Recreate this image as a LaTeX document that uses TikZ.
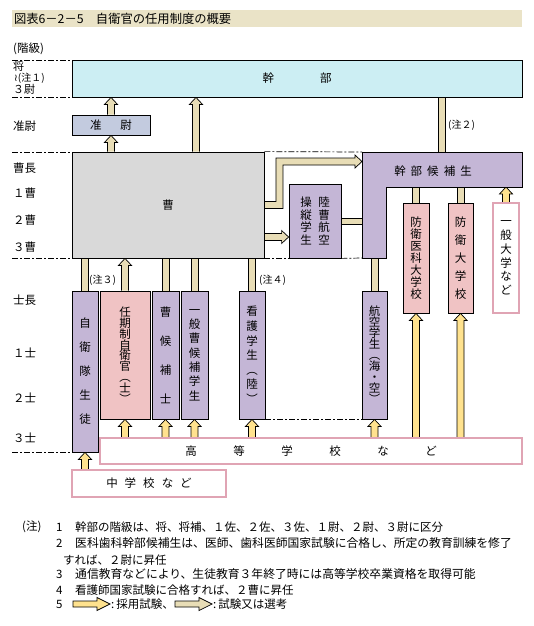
\documentclass[tikz,border=0pt]{standalone}
\usepackage{fontspec}
\setmainfont{Noto Sans CJK JP}
\newfontfamily\symfont{DejaVu Sans}
\usetikzlibrary{calc,backgrounds}

\definecolor{titlebg}{HTML}{EAE3C7}
\definecolor{kancyan}{HTML}{CCEEF3}
\definecolor{junblue}{HTML}{C3CBDF}
\definecolor{sougray}{HTML}{D9D9D9}
\definecolor{stupurple}{HTML}{C4B6D6}
\definecolor{schpink}{HTML}{F0C3C4}
\definecolor{linepink}{HTML}{E0A4B4}
\definecolor{senkotan}{HTML}{E8DDB6}
\definecolor{saiyoyel}{HTML}{FFE28E}

\tikzset{
  rankline/.style={line width=0.7pt, dash pattern=on 6pt off 2pt on 2pt off 2pt},
  ranklabel/.style={anchor=west, inner sep=0pt},
  rbox/.style={draw, line width=0.8pt, inner sep=0pt, align=center},
  topbox/.style={rbox, fill=kancyan},
  junbox/.style={rbox, fill=junblue},
  soubox/.style={rbox, fill=sougray},
  stubox/.style={rbox, fill=stupurple},
  schbox/.style={rbox, fill=schpink},
  openbox/.style={rbox, draw=linepink, line width=1.2pt, fill=white},
  vtxt/.style={font=\fontsize{11.5}{#1}\selectfont},
  notelabel/.style={anchor=west, inner sep=0pt, font=\fontsize{10}{12}\selectfont},
  notetext/.style={anchor=west, inner sep=0pt, font=\fontsize{11.5}{14}\selectfont},
  pics/legarrow/.style={code={
    \filldraw[line width=0.7pt, fill=#1] (0,-3) -- (24,-3) -- (24,-6.5) -- (37,0)
      -- (24,6.5) -- (24,3) -- (0,3) -- cycle;}}
}

% block arrows: #1 fill, #2 start, #3 tip
\newcommand{\blkup}[3]{%
  \draw[line width=0.7pt, fill=#1] let \p1=#2, \p2=#3 in
    (\x1-3.5pt,\y1) -- (\x1-3.5pt,\y2-7pt) -- (\x1-6.5pt,\y2-7pt) -- (\x1,\y2)
    -- (\x1+6.5pt,\y2-7pt) -- (\x1+3.5pt,\y2-7pt) -- (\x1+3.5pt,\y1);}
\newcommand{\blkshaft}[3]{%
  \fill[#1] let \p1=#2, \p2=#3 in (\x1-3.5pt,\y1) rectangle (\x1+3.5pt,\y2);
  \draw[line width=0.7pt] let \p1=#2, \p2=#3 in
    (\x1-3.5pt,\y1) -- (\x1-3.5pt,\y2) (\x1+3.5pt,\y1) -- (\x1+3.5pt,\y2);}
\newcommand{\blkright}[3]{%
  \draw[line width=0.7pt, fill=#1] let \p1=#2, \p2=#3 in
    (\x1,\y1+3.5pt) -- (\x2-7pt,\y1+3.5pt) -- (\x2-7pt,\y1+6.5pt) -- (\x2,\y1)
    -- (\x2-7pt,\y1-6.5pt) -- (\x2-7pt,\y1-3.5pt) -- (\x1,\y1-3.5pt);}
\newcommand{\blkhshaft}[3]{%
  \fill[#1] let \p1=#2, \p2=#3 in (\x1,\y1-3pt) rectangle (\x2,\y1+3pt);
  \draw[line width=0.7pt] let \p1=#2, \p2=#3 in
    (\x1,\y1-3pt) -- (\x2,\y1-3pt) (\x1,\y1+3pt) -- (\x2,\y1+3pt);}

\begin{document}
\begin{tikzpicture}[x=1pt, y=-1pt, font=\fontsize{11.5}{13}\selectfont]
  \useasboundingbox (0,0) rectangle (534,626);

  \node[fill=titlebg, inner sep=2pt, text width=506pt, minimum height=17pt,
    align=left, font=\fontsize{12.3}{14}\selectfont] (title) at (267,18.5)
    {図表6－2－5　自衛官の任用制度の概要};

  % rank scale
  \node[ranklabel] (kaikyu) at (13,49) {(階級)};
  \foreach \y in {60,97,152,258,452}
    \draw[rankline] (12,\y) -- (72,\y);
  \node[ranklabel, font=\fontsize{11}{12}\selectfont] (r1) at (13,66.5) {将};
  \node[ranklabel, font=\fontsize{10}{11}\selectfont] (r2) at (14,78) {{\symfont ≀}(注１)};
  \node[ranklabel, font=\fontsize{11}{12}\selectfont] (r3) at (13,89.5) {３尉};
  \node[ranklabel] (r4) at (13,126) {准尉};
  \node[ranklabel] (r5) at (13,168) {曹長};
  \node[ranklabel] (r6) at (13,193) {１曹};
  \node[ranklabel] (r7) at (13,220) {２曹};
  \node[ranklabel] (r8) at (13,247) {３曹};
  \node[ranklabel] (r9) at (13,300) {士長};
  \node[ranklabel] (r10) at (13,353) {１士};
  \node[ranklabel] (r11) at (13,398) {２士};
  \node[ranklabel] (r12) at (13,438) {３士};

  % boxes
  \node[topbox, minimum width=450, minimum height=37] (kanbu) at (297,78.5) {幹\hspace{46pt}部};
  \node[junbox, minimum width=78, minimum height=20] (jun) at (111,125) {准\hspace{19pt}尉};
  \node[soubox, minimum width=192, minimum height=106] (sou) at (168,205) {曹};
  \node[stubox, vtxt=12.7, minimum width=52, minimum height=74] (rikuso) at (315,221)
    {操\hspace{6.5pt}陸\\縦\hspace{6.5pt}曹\\学\hspace{6.5pt}航\\生\hspace{6.5pt}空};

  \coordinate (kkA) at (362,152);
  \coordinate (kkB) at (522,187);
  \coordinate (kkC) at (386,258);
  \coordinate (kkN) at (442,152);
  \draw[fill=stupurple, line width=0.8pt] (kkA) -- (kkA -| kkB) -- (kkB) -- (kkB -| kkC)
    -- (kkC) -- (kkC -| kkA) -- cycle;
  \node[inner sep=0pt] (kanko) at (433,171) {幹\hspace{5pt}部\hspace{5pt}候\hspace{5pt}補\hspace{5pt}生};

  \node[stubox, vtxt=24, minimum width=26, minimum height=161] (jiei) at (85,371.5)
    {自\\衛\\隊\\生\\徒};
  \node[schbox, vtxt=10.8, minimum width=50, minimum height=128] (ninki) at (125,355)
    {任\\期\\制\\自\\衛\\官\\︵\\士\\︶};
  \node[stubox, vtxt=29, minimum width=27, minimum height=128] (sokoho) at (165.5,355)
    {曹\\候\\補\\士};
  \node[stubox, vtxt=14.3, minimum width=27, minimum height=128] (ippan) at (194.5,355)
    {一\\般\\曹\\候\\補\\学\\生};
  \node[stubox, vtxt=14.6, minimum width=26, minimum height=128] (kango) at (252,355)
    {看\\護\\学\\生\\︵\\陸\\︶};
  \node[stubox, vtxt=11, minimum width=25, minimum height=128] (koku) at (374.5,355)
    {航\\空\\学\\生\\︵\\海\\・\\空\\︶};
  \node[schbox, vtxt=12.1, minimum width=26, minimum height=110] (boi) at (416,258)
    {防\\衛\\医\\科\\大\\学\\校};
  \node[schbox, vtxt=18, minimum width=25, minimum height=110] (boda) at (460.5,258)
    {防\\衛\\大\\学\\校};
  \node[openbox, vtxt=13.7, minimum width=26, minimum height=110] (ippandai) at (506,258)
    {一\\般\\大\\学\\な\\ど};
  \node[openbox, minimum width=422, minimum height=26] (koko) at (311,451)
    {高\hspace{36.5pt}等\hspace{36.5pt}学\hspace{36.5pt}校\hspace{36.5pt}な\hspace{36.5pt}ど};
  \node[openbox, minimum width=154, minimum height=27] (chu) at (149,483.5)
    {中\hspace{7pt}学\hspace{7pt}校\hspace{7pt}な\hspace{7pt}ど};

  % level lines between the boxes
  \draw[rankline] (sou.north east) -- (kkA);
  \draw[rankline] (sou.south east) -- (rikuso.south west);
  \draw[rankline] (rikuso.south east) -- (kkC -| kkA);
  \draw[rankline] (kango.south east) -- (koku.south west);

  \node[notelabel] (chu2) at (448,125) {(注２)};
  \node[notelabel] (chu3) at (89,280) {(注３)};
  \node[notelabel] (chu4) at (259,280) {(注４)};

  \begin{scope}[on background layer]
    \coordinate (s3) at ([xshift=28pt]sou.north);
    \coordinate (s6) at ([yshift=-32pt]sou.east);
    \blkup{senkotan}{(jun.north)}{(jun.north |- kanbu.south)}
    \blkup{senkotan}{(jun.south |- sou.north)}{(jun.south)}
    \blkup{senkotan}{(s3)}{(s3 |- kanbu.south)}
    \blkshaft{senkotan}{(kkN)}{(kkN |- kanbu.south)}
    % bent arrow 曹 -> 幹部候補生
    \draw[line width=0.7pt, fill=senkotan] let \p1=(sou.east), \p2=([yshift=-9.5pt]kkA) in
      (\x1,\y1-3.5pt) -- (\x1+18.5pt,\y1-3.5pt) -- (\x1+18.5pt,\y2-3.5pt)
      -- (\x2-7pt,\y2-3.5pt) -- (\x2-7pt,\y2-6.5pt) -- (\x2,\y2) -- (\x2-7pt,\y2+6.5pt)
      -- (\x2-7pt,\y2+3.5pt) -- (\x1+11.5pt,\y2+3.5pt) -- (\x1+11.5pt,\y1+3.5pt) -- (\x1,\y1+3.5pt);
    \blkright{senkotan}{(s6)}{(s6 -| rikuso.west)}
    \blkhshaft{senkotan}{(rikuso.east)}{(rikuso.east -| kkA)}
    \blkshaft{senkotan}{(boi.north)}{(boi.north |- kkB)}
    \blkshaft{senkotan}{(boda.north)}{(boda.north |- kkB)}
    \blkup{saiyoyel}{(ippandai.north)}{(ippandai.north |- kkB)}
    \blkshaft{senkotan}{(koku.north)}{(koku.north |- kkC)}
    \blkshaft{senkotan}{(jiei.north)}{(jiei.north |- sou.south)}
    \blkup{senkotan}{(ninki.north)}{(ninki.north |- sou.south)}
    \blkshaft{senkotan}{(sokoho.north)}{(sokoho.north |- sou.south)}
    \blkshaft{senkotan}{(ippan.north)}{(ippan.north |- sou.south)}
    \blkshaft{senkotan}{(kango.north)}{(kango.north |- sou.south)}
    \foreach \b in {ninki,sokoho,ippan,kango,koku,boi,boda}
    {
      \blkup{saiyoyel}{(\b.south |- koko.north)}{(\b.south)}
    }
    \blkup{saiyoyel}{(jiei.south |- chu.north)}{(jiei.south)}
  \end{scope}

  % notes
  \node[notetext] (nh) at (22,527) {(注)};
  \node[notetext] (nn1) at (56,527) {1};
  \node[notetext] (nt1) at (75,527) {幹部の階級は、将、将補、１佐、２佐、３佐、１尉、２尉、３尉に区分};
  \node[notetext] (nn2) at (56,543) {2};
  \node[notetext, font=\fontsize{11.8}{14}\selectfont] (nt2) at (75,543) {医科歯科幹部候補生は、医師、歯科医師国家試験に合格し、所定の教育訓練を修了};
  \node[notetext] (nt2b) at (63,560) {すれば、２尉に昇任};
  \node[notetext] (nn3) at (56,574) {3};
  \node[notetext, font=\fontsize{11.8}{14}\selectfont] (nt3) at (75,574) {通信教育などにより、生徒教育３年終了時には高等学校卒業資格を取得可能};
  \node[notetext] (nn4) at (56,590) {4};
  \node[notetext] (nt4) at (75,590) {看護師国家試験に合格すれば、２曹に昇任};
  \node[notetext] (nn5) at (56,604) {5};
  \pic at (73,604) {legarrow=saiyoyel};
  \node[notetext] (lg1) at (111,604) {:\,採用試験、};
  \pic at ([xshift=1pt]lg1.east) {legarrow=senkotan};
  \node[notetext] (lg2) at ([xshift=39pt]lg1.east) {:\,試験又は選考};
\end{tikzpicture}
\end{document}
